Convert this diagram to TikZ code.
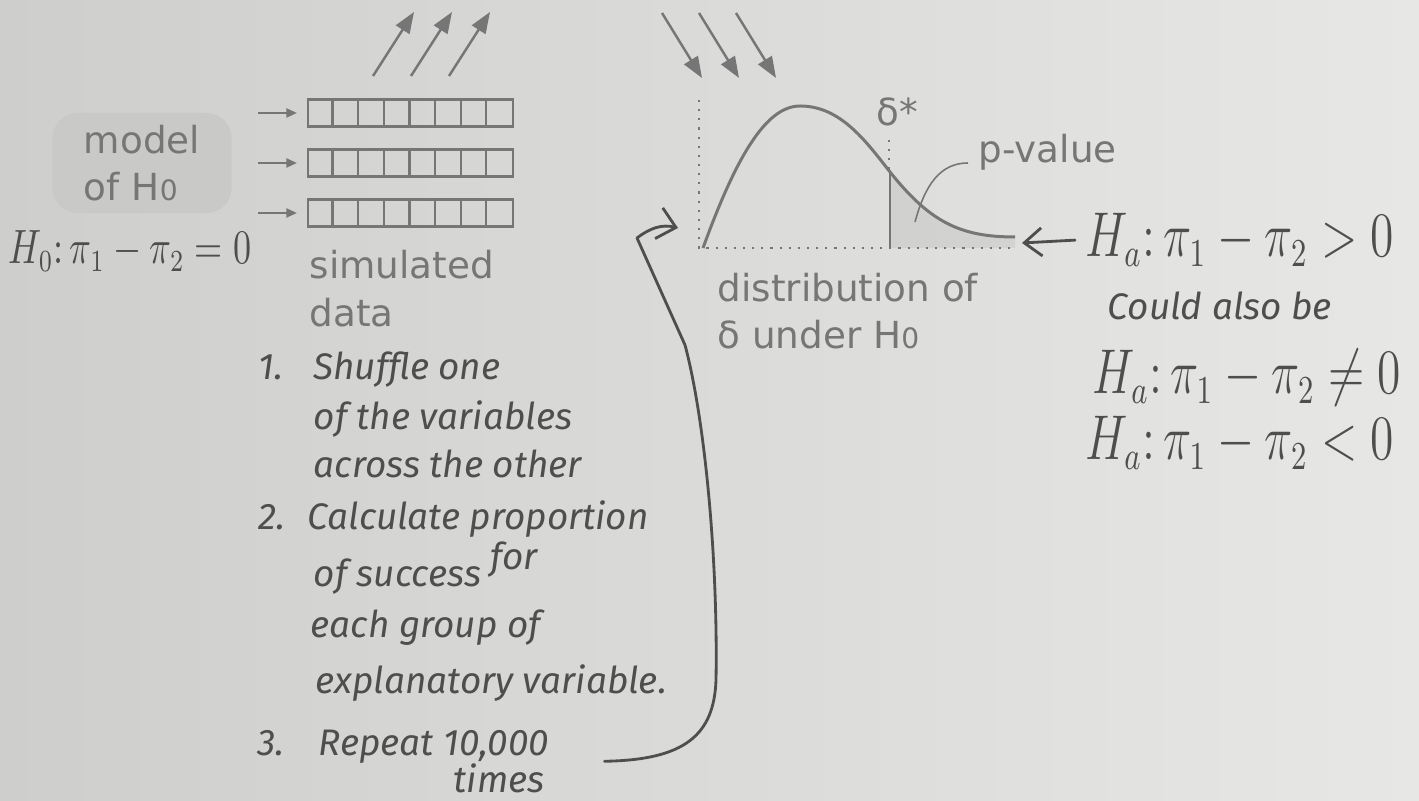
\documentclass[tikz,border=0pt]{standalone}
\usepackage{fontspec}
\setmainfont{DejaVu Sans}
\newfontfamily\handfont{Fira Sans}
\usepackage{graphicx}
\usetikzlibrary{positioning,arrows.meta}
\definecolor{ink}{RGB}{118,118,118}
\definecolor{pencil}{RGB}{78,78,78}
\definecolor{paperdark}{RGB}{206,206,204}
\definecolor{paperlight}{RGB}{231,231,229}
\definecolor{boxfill}{RGB}{201,201,199}
\newcommand{\hw}[1]{\scalebox{0.94}[1.25]{#1}}
\newcommand{\Hnull}{H{\fontsize{8}{9}\selectfont 0}}

\begin{document}
\begin{tikzpicture}[
  x=0.01cm, y=-0.01cm,
  printed/.style={draw=ink, line width=0.6pt},
  printtext/.style={text=ink, font=\fontsize{10.6}{13.5}\selectfont, inner sep=0pt},
  modelbox/.style={fill=boxfill, rounded corners=2.5mm, minimum width=1.79cm, minimum height=1.0cm},
  datarow/.style={printed, minimum width=2.05cm, minimum height=0.27cm, inner sep=0pt},
  feed/.style={ink, line width=0.5pt, shorten >=1mm, -{Triangle[length=3pt,width=2.6pt]}},
  flow/.style={ink, line width=0.7pt, -{Triangle[length=6pt,width=4.5pt]}},
  guide/.style={ink, line width=0.6pt, dotted},
  hand/.style={text=pencil, font=\handfont\itshape\fontsize{10.5}{12}\selectfont, inner sep=0pt, anchor=base west},
  handmath/.style={text=pencil, inner sep=0pt, anchor=base west, font=\fontsize{13.4}{15}\selectfont},
  pen/.style={pencil, line width=0.8pt, line cap=round, line join=round}
]
\useasboundingbox (0,0) rectangle (1419,801);
\shade[left color=paperdark, right color=paperlight] (0,0) rectangle (1419,801);

\node[modelbox, printtext, align=left] (model) at (142,163) {model\\of \Hnull};
\node[handmath, font=\fontsize{10.7}{13}\selectfont] (h0) at (8,264) {\hw{$H_0\colon\pi_1-\pi_2=0$}};

\foreach \r/\y in {1/113, 2/163, 3/213} {
  \node[datarow] (row\r) at (410.5,\y) {};
  \foreach \c in {1,...,7}
    \draw[printed] ([xshift=\c*2.05cm/8]row\r.north west) -- ([xshift=\c*2.05cm/8]row\r.south west);
  \coordinate (feed\r) at (258,\y);
  \draw[feed] (feed\r) -- (row\r.west);
}
\node[printtext, align=left, below right=2.2mm and 0.2mm of row3.south west] (simdata) {simulated\\data};

\foreach \i in {0,1,2} {
  \coordinate (up\i) at (373+38*\i,76);
  \coordinate (uptip\i) at (414+38*\i,12);
  \draw[flow] (up\i) -- (uptip\i);
  \coordinate (down\i) at (662+37*\i,13);
  \coordinate (downtip\i) at (702+37*\i,78);
  \draw[flow] (down\i) -- (downtip\i);
}

\fill[ink, opacity=0.12] (890,172) .. controls (930,222) and (960,237) .. (1015,237) -- (1015,248) -- (890,248) -- cycle;
\draw[guide] (699,100) -- (699,248) -- (1015,248);
\draw[guide] (889,140) -- (889,172);
\draw[printed, line width=0.85pt] (703,248) .. controls (735,160) and (765,106) .. (800,106) .. controls (840,106) and (865,140) .. (890,172) .. controls (930,222) and (960,237) .. (1015,237);
\draw[printed] (890,172) -- (890,248);
\node[printtext] (dstar) at (897,112) {δ*};
\node[printtext, anchor=base west] (pval) at (978,163) {p-value};
\coordinate (tailarea) at (915,222);
\draw[ink, line width=0.45pt] ([xshift=-1mm]pval.base west) .. controls (940,163) and (925,185) .. (tailarea);
\node[printtext, align=left, anchor=north west] (distlabel) at (717,272) {distribution of\\δ under \Hnull};

\node[handmath] (ha1) at (1085,257) {\hw{$H_a\colon\pi_1-\pi_2>0$}};
\node[hand, anchor=base] (could) at (1220,320) {Could also be};
\node[handmath] (ha2) at (1092,394) {\hw{$H_a\colon\pi_1-\pi_2\neq0$}};
\node[handmath] (ha3) at (1085,460) {\hw{$H_a\colon\pi_1-\pi_2<0$}};
\coordinate (tailtip) at (1022,243);
\draw[pen, -{Straight Barb[length=5pt,width=8pt]}] ([xshift=-1mm]ha1.west) -- (tailtip);

\foreach \n/\x/\y/\t in {
  hs1/258/380/{\makebox[15.6pt][l]{1.}Shuffle one},
  hs2/313/430/{of the variables},
  hs3/313/478/{across the other},
  hs4/258/530/{\makebox[14pt][l]{2.}Calculate proportion},
  hs5/313/587/{of success \raisebox{5pt}{for}},
  hs6/310/637/{each group of},
  hs7/315/693/{explanatory variable.},
  hs8/257/755/{\makebox[17.4pt][l]{3.}Repeat 10,000},
  hs9/453/792/{times}}
  \node[hand] (\n) at (\x,\y) {\t};

\coordinate (loopin) at (678,228);
\draw[pen, -{Straight Barb[length=5pt,width=9pt]}] ([xshift=5.5mm,yshift=-1.5mm]hs8.east) .. controls (685,760) and (714,735) .. (716,680) .. controls (718,560) and (705,420) .. (685,345) -- (637,238) .. controls (650,228) and (662,224) .. (loopin);
\end{tikzpicture}
\end{document}
